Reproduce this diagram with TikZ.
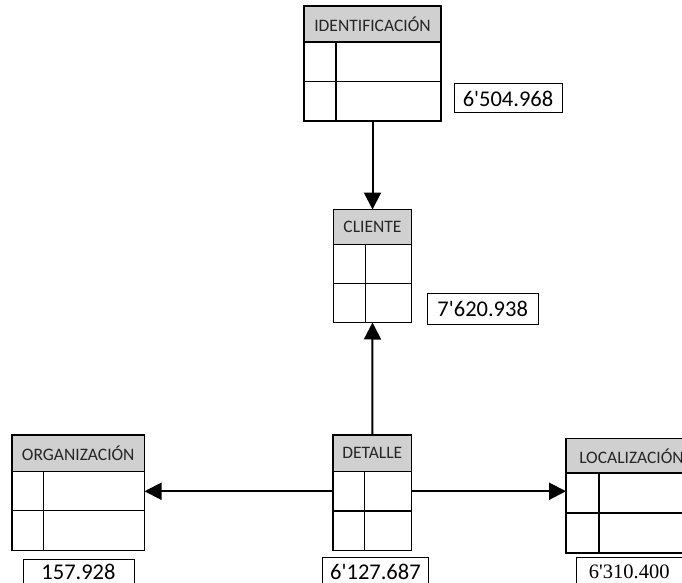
\documentclass[tikz,border=0pt]{standalone}
\usepackage{fontspec}
\setmainfont{Carlito}
\newfontfamily\valfont{Carlito}
\newfontfamily\valserif{Liberation Serif}
\usetikzlibrary{arrows.meta}
\definecolor{hdrgray}{HTML}{D0D0D0}
\newcommand{\etable}[8]{% name, x, y, total width, first col width, header h, row h, title
  \node[whole, minimum width=#4pt, minimum height={#6pt+2*#7pt}] (#1) at (#2,#3) {};
  \node[hdr, minimum width=#4pt, minimum height=#6pt] (#1-h) at (#2,#3) {#8};
  \node[cell, minimum width=#5pt, minimum height=#7pt] (#1-a) at (#2,#3+#6) {};
  \node[cell, minimum width={#4pt-#5pt}, minimum height=#7pt] (#1-b) at (#2+#5,#3+#6) {};
  \node[cell, minimum width=#5pt, minimum height=#7pt] (#1-c) at (#2,#3+#6+#7) {};
  \node[cell, minimum width={#4pt-#5pt}, minimum height=#7pt] (#1-d) at (#2+#5,#3+#6+#7) {};
}
\begin{document}
\begin{tikzpicture}[x=1pt,y=-1pt,
  whole/.style={inner sep=0pt, outer sep=0pt, anchor=north west},
  hdr/.style={draw, fill=hdrgray, line width=1.2pt, inner sep=0pt, outer sep=0pt, anchor=north west, text=black!85, font=\fontsize{17.5}{18}\selectfont},
  cell/.style={draw, line width=1.2pt, inner sep=0pt, outer sep=0pt, anchor=north west},
  val/.style={draw, line width=1pt, inner sep=0pt, anchor=north west, font=\valfont\fontsize{22.5}{23}\selectfont},
  link/.style={line width=2pt, -{Triangle[length=17pt,width=17pt]}}]
\useasboundingbox (0,0) rectangle (682,583);
\etable{idf}{304}{6}{137}{32}{36}{39.5}{IDENTIFICACIÓN}
\etable{cli}{333.5}{209.5}{78}{32}{35}{39}{CLIENTE}
\etable{org}{12}{435}{132.5}{31.5}{36.5}{39.3}{ORGANIZACIÓN}
\etable{det}{333}{435}{78.5}{31.5}{36.5}{39.5}{DETALLE}
\etable{loc}{566}{438.5}{131}{33}{34.5}{40}{LOCALIZACIÓN}
\node[val, minimum width=108pt, minimum height=29pt] (vidf) at (453.5,83.5) {6'504.968};
\node[val, minimum width=111pt, minimum height=31pt] (vcli) at (426.7,292.5) {7'620.938};
\node[val, minimum width=111pt, minimum height=32pt] (vorg) at (22.5,558.5) {\raisebox{6pt}{157.928}};
\node[val, minimum width=106.5pt, minimum height=35pt] (vdet) at (321.7,556.5) {\raisebox{6pt}{6'127.687}};
\node[val, minimum width=105.5pt, minimum height=35pt, font=\valserif\fontsize{20.5}{22}\selectfont] (vloc) at (576,556.5) {\raisebox{6pt}{6'310.400}};
\draw[link] (idf.south) -- (cli.north);
\draw[link] (det.north) -- (cli.south);
\draw[link] (det-a.west) -- (det-a.west -| org.east);
\draw[link] (det-b.east) -- (det-b.east -| loc.west);
\end{tikzpicture}
\end{document}
